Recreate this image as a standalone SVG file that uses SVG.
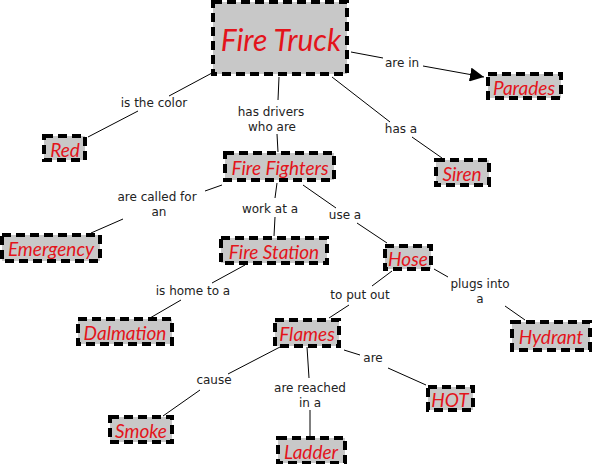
<svg xmlns="http://www.w3.org/2000/svg" width="592" height="464" viewBox="0 0 592 464">
<style>
.n rect{fill:#c8c8c8;stroke:#000;stroke-width:4;stroke-dasharray:9 5}
.n text{font-family:"Comic Sans MS","Lato",sans-serif;font-style:italic;font-size:19px;fill:#e3141b;text-anchor:middle;dominant-baseline:central}
.l{font-family:"DejaVu Sans",Verdana,sans-serif;font-size:12px;fill:#222;text-anchor:middle}
#c line{stroke:#000;stroke-width:1}
</style>
<defs>
<marker id="ah" viewBox="0 0 10 10" refX="10" refY="5" markerWidth="14" markerHeight="14" markerUnits="userSpaceOnUse" orient="auto"><path d="M0,0L10,5L0,10z" fill="#000"/></marker>
</defs>
<rect width="592" height="464" fill="#fff"/>
<g id="c">
<line x1="351" y1="52" x2="383" y2="58"/><line x1="423" y1="66" x2="484" y2="77" marker-end="url(#ah)"/>
<line x1="212" y1="73" x2="169" y2="96"/><line x1="138" y1="111" x2="88" y2="137"/>
<line x1="279" y1="77" x2="278" y2="100"/><line x1="277" y1="134" x2="278" y2="152"/>
<line x1="332" y1="77" x2="390" y2="122"/><line x1="412" y1="137" x2="442" y2="158"/>
<line x1="222" y1="185" x2="205" y2="191"/><line x1="123" y1="219" x2="91" y2="233"/>
<line x1="277" y1="183" x2="275" y2="198"/><line x1="275" y1="217" x2="274" y2="236"/>
<line x1="303" y1="185" x2="336" y2="208"/><line x1="357" y1="223" x2="387" y2="243"/>
<line x1="245" y1="265" x2="212" y2="283"/><line x1="181" y1="300" x2="150" y2="318"/>
<line x1="392" y1="271" x2="372" y2="286"/><line x1="349" y1="305" x2="329" y2="318"/>
<line x1="434" y1="269" x2="448" y2="277"/><line x1="505" y1="306" x2="525" y2="320"/>
<line x1="280" y1="347" x2="228" y2="374"/><line x1="200" y1="390" x2="163" y2="416"/>
<line x1="307" y1="347" x2="309" y2="378"/><line x1="310" y1="410" x2="310" y2="437"/>
<line x1="344" y1="350" x2="360" y2="355"/><line x1="388" y1="368" x2="426" y2="385"/>
</g>
<g id="labels">
<text class="l" x="402" y="67">are in</text>
<text class="l" x="154" y="107">is the color</text>
<text class="l" x="271" y="116">has drivers</text><text class="l" x="272" y="131">who are</text>
<text class="l" x="401" y="133">has a</text>
<text class="l" x="157" y="201">are called for</text><text class="l" x="159" y="216">an</text>
<text class="l" x="270" y="213">work at a</text>
<text class="l" x="345" y="219">use a</text>
<text class="l" x="193" y="295">is home to a</text>
<text class="l" x="360" y="299">to put out</text>
<text class="l" x="480" y="288">plugs into</text><text class="l" x="480" y="303">a</text>
<text class="l" x="214" y="384">cause</text>
<text class="l" x="310" y="392">are reached</text><text class="l" x="310" y="407">in a</text>
<text class="l" x="373" y="362">are</text>
</g>
<g id="fire-truck" class="n"><rect x="213" y="2" width="134" height="72"/><text x="281" y="39" style="font-size:30px">Fire Truck</text></g>
<g id="parades" class="n"><rect x="488" y="74" width="73" height="24"/><text x="524" y="87">Parades</text></g>
<g id="red" class="n"><rect x="44" y="136" width="41" height="24"/><text x="65" y="149">Red</text></g>
<g id="siren" class="n"><rect x="436" y="160" width="53" height="25"/><text x="462" y="173">Siren</text></g>
<g id="fire-fighters" class="n"><rect x="225" y="153" width="109" height="27"/><text x="280" y="167">Fire Fighters</text></g>
<g id="emergency" class="n"><rect x="2" y="235" width="98" height="26"/><text x="51" y="248">Emergency</text></g>
<g id="fire-station" class="n"><rect x="221" y="238" width="106" height="25"/><text x="274" y="251">Fire Station</text></g>
<g id="hose" class="n"><rect x="385" y="246" width="46" height="23"/><text x="408" y="258">Hose</text></g>
<g id="dalmation" class="n"><rect x="78" y="319" width="94" height="25"/><text x="125" y="332">Dalmation</text></g>
<g id="flames" class="n"><rect x="275" y="320" width="64" height="26"/><text x="307" y="333">Flames</text></g>
<g id="hydrant" class="n"><rect x="512" y="322" width="78" height="28"/><text x="551" y="336">Hydrant</text></g>
<g id="hot" class="n"><rect x="428" y="387" width="45" height="23"/><text x="450" y="399">HOT</text></g>
<g id="smoke" class="n"><rect x="110" y="417" width="62" height="25"/><text x="141" y="430">Smoke</text></g>
<g id="ladder" class="n"><rect x="278" y="438" width="67" height="25"/><text x="311" y="451">Ladder</text></g>
</svg>
